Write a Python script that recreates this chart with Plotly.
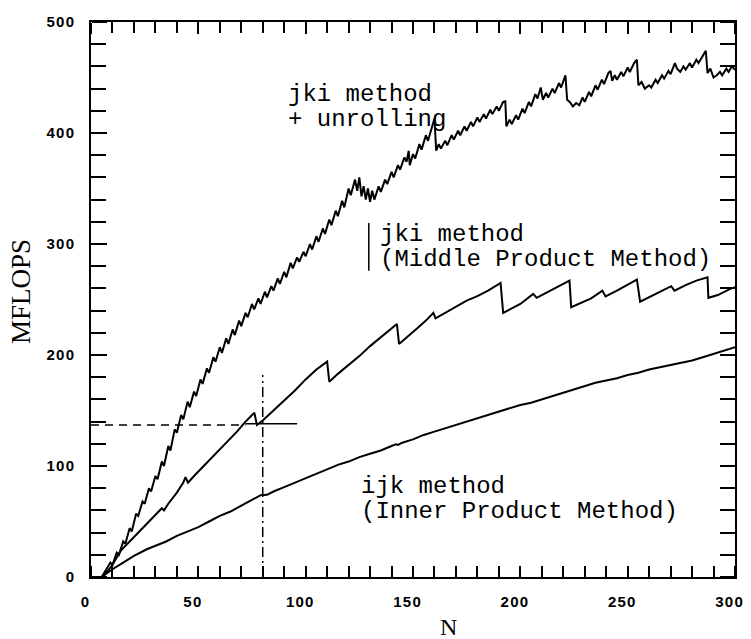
import plotly.graph_objects as go

# ---- data ----
upper_n = [5, 7, 9, 10, 12, 13, 15, 16, 18, 19, 21, 22, 24, 25, 27, 28, 30, 31, 33, 34,
           36, 37, 39, 40, 42, 43, 45, 46, 48, 49, 51, 52, 54, 55, 57, 58, 60, 61, 63, 64,
           66, 67, 69, 70, 72, 73, 75, 76, 78, 79, 81, 82, 84, 85, 87, 88, 90, 91, 93, 94,
           96, 97, 99, 100, 102, 103, 105, 106, 108, 109, 111, 112, 114, 115, 117, 118, 120, 121, 123, 124,
           125, 126, 127, 128, 129, 130, 131, 132, 134, 135, 137, 138, 140, 141, 143, 144, 146, 147, 148, 148.5,
           150, 151, 153, 154, 156, 157, 159, 160, 160.8, 162, 163, 165, 166, 168, 169, 171, 172, 174, 175, 177,
           178, 180, 181, 183, 184, 186, 187, 189, 190, 192, 193, 193.5, 195, 196, 198, 199, 201, 202, 204, 205,
           207, 208, 209.5, 210.5, 212, 213, 215, 216, 218, 219, 221, 221.8, 223, 224.5, 226, 227.5, 229, 230, 232, 233,
           235, 236, 238, 239, 241, 242, 242.8, 244, 245, 247, 248, 250, 251, 253, 254.3, 255, 256.5, 258, 260, 261,
           263, 264, 266, 267, 269, 270, 272, 273, 274.5, 276, 277, 279, 280, 282, 283, 285, 286.4, 287.2, 288.5, 290,
           291.5, 293, 294, 296, 297, 298.5, 300]
upper_y = [0, 6, 13, 11, 22, 20, 32, 30, 44, 41, 57, 55, 68, 66, 80, 77, 91, 88, 104, 100,
           118, 114, 133, 130, 146, 142, 158, 153, 167, 163, 178, 174, 188, 184, 198, 194, 207, 202, 215, 210,
           223, 218, 231, 226, 238, 234, 246, 241, 251, 246, 257, 252, 262, 258, 269, 264, 275, 270, 283, 278,
           288, 284, 293, 289, 300, 295, 307, 302, 314, 309, 322, 317, 330, 325, 339, 333, 350, 344, 358, 348,
           360, 343, 352, 340, 350, 338, 348, 340, 352, 347, 358, 354, 365, 360, 371, 367, 378, 374, 384, 371,
           381, 377, 390, 385, 398, 393, 406, 413, 384, 390, 386, 393, 389, 398, 394, 402, 398, 406, 402, 410,
           406, 414, 410, 417, 413, 421, 417, 424, 420, 428, 428.5, 406, 412, 408, 416, 412, 422, 418, 428, 424,
           435, 431, 441, 430, 436, 432, 440, 436, 445, 441, 452, 430, 428, 424, 427, 425, 432, 428, 437, 433,
           443, 439, 448, 444, 454, 456, 447, 452, 448, 455, 451, 459, 455, 463, 466, 443, 446, 440, 443, 441,
           448, 445, 452, 449, 456, 453, 463, 458, 455, 460, 457, 463, 459, 466, 463, 470, 474, 454, 458, 450,
           452, 455, 452, 458, 455, 460, 457]

middle_n = [5, 8, 10, 14, 18, 22, 26, 30, 33, 34, 36, 40, 43, 44, 45.2, 48, 52, 56, 60, 64,
            68, 72, 76.1, 77.3, 80, 85, 90, 95, 100, 105, 110, 111, 115, 120, 125, 130, 135, 140, 142.5, 143.5,
            148, 152, 156, 159.5, 160.5, 165, 170, 175, 180, 185, 190.8, 192, 196, 200, 206, 207.6, 212, 217, 222.9, 223.7,
            228, 233, 238.2, 239.7, 245, 250, 254.3, 255.8, 260, 265, 270.3, 271.8, 277, 282, 287.2, 287.6, 292, 297.8, 300]
middle_y = [0, 6, 11, 24, 32, 40, 48, 56, 62, 60, 66, 76, 85, 90, 85, 91, 99, 107, 115, 123,
            131, 140, 148, 137, 141, 150, 159, 168, 178, 187, 194, 176, 183, 191, 199, 208, 216, 224, 228, 210,
            217, 224, 231, 238, 233, 238, 244, 249, 253, 258, 265, 238, 242, 246, 255, 251.5, 256, 261, 267, 243,
            247, 251, 258, 252.7, 258, 263, 268, 248, 252, 257, 262, 258, 263, 267, 270, 251.5, 254, 259.6, 261]

lower_n = [5, 10, 15, 20, 26, 30, 35, 40, 45, 50, 55, 60, 65, 70, 75, 79, 82, 85, 90, 95,
           100, 105, 110, 115, 120, 125, 130, 135, 140, 142, 143, 145, 150, 155, 160, 165, 170, 175, 180, 185,
           190, 195, 200, 205, 210, 215, 220, 225, 230, 235, 240, 245, 250, 255, 260, 265, 270, 275, 280, 285,
           290, 295, 300]
lower_y = [0, 7, 13, 19, 25, 28, 32, 37, 41, 45, 50, 55, 59, 64, 69, 73.7, 74, 77, 81, 85,
           89, 93, 97, 101, 104, 108, 111, 114, 118, 119.5, 119, 121, 124, 128, 131, 134, 137, 140, 143, 146,
           149, 152, 155, 157, 160, 163, 166, 169, 172, 175, 177, 179, 182, 184, 187, 189, 191, 193, 195, 198,
           201, 204, 207]

# reference marks (N = 80, MFLOPS ~ 137)
ref_dash_n = [0, 72]
ref_dash_y = [137, 137]
ref_solid_n = [72, 96]
ref_solid_y = [138, 138]
ref_vert_n = [80, 80]
ref_vert_y = [0, 182]

x_tickvals = [0, 50, 100, 150, 200, 250, 300]
x_ticktext = ["0", "5\u200a0", "1\u200a0\u200a0", "1\u200a5\u200a0", "2\u200a0\u200a0", "2\u200a5\u200a0", "3\u200a0\u200a0"]
x_minor_vals = [v for v in range(0, 301, 10) if v % 50]
y_tickvals = [0, 100, 200, 300, 400, 500]
y_ticktext = ["0", "1\u200a0\u200a0", "2\u200a0\u200a0", "3\u200a0\u200a0", "4\u200a0\u200a0", "5\u200a0\u200a0"]
y_minor_vals = [v for v in range(0, 501, 20) if v % 100]

labels = [
    ("jki method", 91.0, 434.5),
    ("+ unrolling", 91.0, 412.0),
    ("jki method", 133.5, 309.0),
    ("(Middle Product Method)", 133.5, 286.0),
    ("ijk method", 125.0, 81.5),
    ("(Inner Product Method)", 125.0, 59.0),
]
bar_n = [129.4, 129.4]
bar_y = [276, 319]

fig = go.Figure()
for xs, ys in [(upper_n, upper_y), (middle_n, middle_y), (lower_n, lower_y)]:
    fig.add_trace(go.Scatter(x=xs, y=ys, mode="lines",
                             line=dict(color="black", width=2),
                             showlegend=False, hoverinfo="skip"))
fig.add_trace(go.Scatter(x=ref_dash_n, y=ref_dash_y, mode="lines",
                         line=dict(color="black", width=1.5, dash="8px,6px"),
                         showlegend=False, hoverinfo="skip"))
fig.add_trace(go.Scatter(x=ref_solid_n, y=ref_solid_y, mode="lines",
                         line=dict(color="black", width=1.5),
                         showlegend=False, hoverinfo="skip"))
fig.add_trace(go.Scatter(x=ref_vert_n, y=ref_vert_y, mode="lines",
                         line=dict(color="black", width=1.5, dash="10px,4px,2px,4px"),
                         showlegend=False, hoverinfo="skip"))
fig.add_trace(go.Scatter(x=bar_n, y=bar_y, mode="lines",
                         line=dict(color="black", width=1.5),
                         showlegend=False, hoverinfo="skip"))

# empty carrier traces so the inward-facing tick axes are drawn
for xa, ya in [("x2", "y"), ("x3", "y"), ("x", "y2"), ("x", "y3")]:
    fig.add_trace(go.Scatter(x=[0], y=[0], mode="lines", xaxis=xa, yaxis=ya,
                             showlegend=False, hoverinfo="skip", line=dict(color="black", width=0)))

for text, xn, yv in labels:
    fig.add_annotation(x=xn, y=yv, xref="x", yref="y", text=text, showarrow=False,
                       xanchor="left", yanchor="middle",
                       font=dict(family="Liberation Mono, Courier New, monospace", size=24, color="black"))

fig.add_annotation(x=-0.109, y=0.515, xref="paper", yref="paper", text="MFLOPS",
                   textangle=-90, showarrow=False, xanchor="center", yanchor="middle",
                   font=dict(family="Liberation Serif, Times New Roman, serif", size=27, color="black"))
fig.add_annotation(x=0.555, y=-0.09, xref="paper", yref="paper", text="N",
                   showarrow=False, xanchor="center", yanchor="middle",
                   font=dict(family="Liberation Serif, Times New Roman, serif", size=24, color="black"))

tickfont = dict(family="Liberation Sans Narrow, Liberation Sans, Arial, sans-serif",
                size=15, color="black", weight="bold")

fig.update_xaxes(range=[0, 300], tickvals=x_tickvals, ticktext=x_ticktext,
                 ticks="inside", ticklen=11, tickwidth=2, tickcolor="black",
                 minor=dict(tickmode="array", tickvals=x_minor_vals, ticks="inside",
                            ticklen=5, tickwidth=2, tickcolor="black"),
                 showline=True, linecolor="black", linewidth=2, mirror="allticks",
                 showgrid=False, zeroline=False, tickfont=tickfont,
                 ticklabelstandoff=10, ticklabelshift=-6, selector=dict(anchor="y"))

x_tick_axis = dict(range=[0, 300], tickvals=x_tickvals, ticks="outside", ticklen=11, tickwidth=2,
                   tickcolor="black",
                   minor=dict(tickmode="array", tickvals=x_minor_vals, ticks="outside",
                              ticklen=5, tickwidth=2, tickcolor="black"),
                   showticklabels=False, showline=False, showgrid=False, zeroline=False,
                   overlaying="x", anchor="free")
y_tick_axis = dict(range=[0, 500], tickvals=y_tickvals, ticks="outside", ticklen=15, tickwidth=2,
                   tickcolor="black",
                   minor=dict(tickmode="array", tickvals=y_minor_vals, ticks="outside",
                              ticklen=8, tickwidth=2, tickcolor="black"),
                   showticklabels=False, showline=False, showgrid=False, zeroline=False,
                   overlaying="y", anchor="free")

fig.update_layout(
    xaxis=dict(range=[0, 300], tickvals=x_tickvals, ticktext=x_ticktext,
               ticks="inside", ticklen=11, tickwidth=2, tickcolor="black",
               minor=dict(tickmode="array", tickvals=x_minor_vals, ticks="inside",
                          ticklen=5, tickwidth=2, tickcolor="black"),
               showline=True, linecolor="black", linewidth=2, mirror="allticks",
               showgrid=False, zeroline=False, tickfont=tickfont,
               ticklabelstandoff=10, ticklabelshift=-6),
    yaxis=dict(range=[0, 500], tickvals=y_tickvals, ticktext=y_ticktext,
               ticks="inside", ticklen=15, tickwidth=2, tickcolor="black",
               minor=dict(tickmode="array", tickvals=y_minor_vals, ticks="inside",
                          ticklen=8, tickwidth=2, tickcolor="black"),
               showline=True, linecolor="black", linewidth=2, mirror="allticks",
               showgrid=False, zeroline=False, tickfont=tickfont,
               ticklabelstandoff=12),
    xaxis2=dict(x_tick_axis, side="top", position=0),
    xaxis3=dict(x_tick_axis, side="bottom", position=1),
    yaxis2=dict(y_tick_axis, side="right", position=0),
    yaxis3=dict(y_tick_axis, side="left", position=1),
    width=751, height=639,
    margin=dict(l=91, r=8, t=22, b=62),
    paper_bgcolor="white", plot_bgcolor="white",
    showlegend=False)

fig.write_html("out.html")
